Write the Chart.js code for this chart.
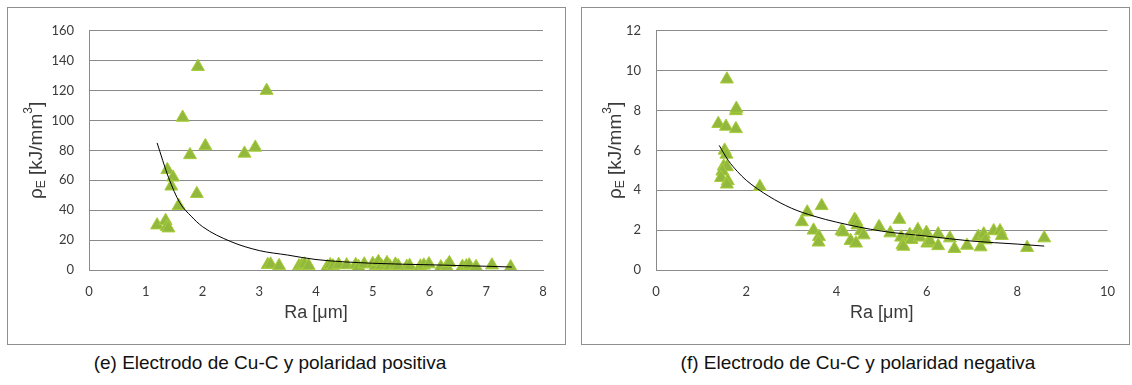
<!DOCTYPE html>
<html>
<head>
<meta charset="utf-8">
<script src="https://cdn.jsdelivr.net/npm/chart.js@4.4.1/dist/chart.umd.min.js"></script>
<style>
  body { margin: 0; background: #fff; width: 1132px; height: 385px; position: relative; overflow: hidden; }
  .box { position: absolute; top: 7px; height: 338px; border: 1px solid #8f8f8f; box-sizing: border-box; }
  .box canvas { display: block; }
  .caption { position: absolute; top: 352px; font: 19px "Liberation Sans", Arial, sans-serif; color: #111; white-space: nowrap; transform: translateX(-50%); }
</style>
</head>
<body>
<div class="box" style="left:7px; width:559px;"><canvas id="chartE"></canvas></div>
<div class="box" style="left:581px; width:549px;"><canvas id="chartF"></canvas></div>
<div class="caption" style="left:270px;">(e) Electrodo de Cu-C y polaridad positiva</div>
<div class="caption" style="left:858px;">(f) Electrodo de Cu-C y polaridad negativa</div>
<script>
// (e) positive polarity: Ra [um] vs rho_E [kJ/mm3]
const raPos = [1.2, 1.35, 1.37, 1.4, 1.38, 1.48, 1.45, 1.58, 1.65, 1.78, 1.92, 1.9, 2.05, 2.74, 2.93, 3.13,
  3.15, 3.2, 3.35, 3.7, 3.75, 3.8, 3.87, 4.2, 4.25, 4.3, 4.4, 4.54, 4.7, 4.75, 4.85, 5.0, 5.05, 5.1, 5.15,
  5.25, 5.3, 5.4, 5.45, 5.6, 5.65, 5.84, 5.9, 5.99, 6.2, 6.3, 6.35, 6.58, 6.65, 6.7, 6.82, 7.1, 7.43];
const rhoPos = [30, 33, 29, 28, 67, 62, 56, 43, 102, 77, 136, 51, 83, 78, 82, 120,
  3.5, 3.8, 2.8, 2.6, 3.2, 3.8, 2.9, 2.2, 3.4, 2.6, 3.6, 3.3, 3.5, 2.2, 3.9, 4.2, 2.8, 5.5, 3.0,
  4.8, 2.6, 3.8, 2.7, 2.3, 2.9, 2.5, 3.1, 4.0, 2.0, 2.4, 4.8, 2.2, 2.6, 3.2, 2.2, 3.2, 2.0];
const trendRaPos = [1.2, 1.4, 1.6, 1.8, 2.0, 2.5, 3.0, 3.5, 4.0, 5.0, 6.0, 7.0, 7.45];
const trendRhoPos = [85, 62, 45, 36, 29, 19, 13, 10, 7, 4.5, 3.5, 2.5, 2];

// (f) negative polarity
const raNeg = [1.57, 1.38, 1.55, 1.77, 1.78, 1.77, 1.52, 1.56, 1.5, 1.57, 1.47, 1.44, 1.59, 1.57, 2.3,
  3.23, 3.35, 3.67, 3.49, 3.61, 3.6, 4.11, 4.15, 4.4, 4.43, 4.31, 4.43, 4.46, 4.54, 4.6, 4.94, 5.19,
  5.39, 5.43, 5.46, 5.48, 5.62, 5.66, 5.8, 5.84, 5.99, 6.01, 6.07, 6.25, 6.25, 6.51, 6.61, 6.89,
  7.14, 7.19, 7.26, 7.3, 7.48, 7.62, 7.66, 8.22, 8.6];
const rhoNeg = [9.57, 7.34, 7.2, 7.98, 8.1, 7.08, 6.0, 5.8, 5.2, 5.17, 4.95, 4.63, 4.47, 4.3, 4.18,
  2.41, 2.9, 3.22, 1.99, 1.67, 1.39, 1.96, 1.9, 2.53, 2.45, 1.47, 1.34, 2.25, 1.96, 1.75, 2.17, 1.85,
  2.53, 1.64, 1.26, 1.18, 1.77, 1.52, 2.02, 1.64, 1.88, 1.34, 1.44, 1.8, 1.21, 1.6, 1.07, 1.23,
  1.68, 1.15, 1.8, 1.5, 1.96, 1.96, 1.72, 1.12, 1.6];
const trendRaNeg = [1.4, 1.6, 1.8, 2.0, 2.5, 3.0, 3.5, 4.0, 5.0, 6.0, 7.0, 8.0, 8.6];
const trendRhoNeg = [6.25, 5.5, 4.95, 4.5, 3.7, 3.1, 2.7, 2.4, 1.95, 1.7, 1.45, 1.3, 1.2];

const xTitle = 'Ra [μm]';
const gridGray = '#8a8a8a';
const textGray = '#3a3a3a';

// y axis title with subscript E and superscript 3
const yTitlePlugin = {
  id: 'yTitle',
  afterDraw(chart, args, opts) {
    const ctx = chart.ctx;
    const area = chart.chartArea;
    const parts = [
      { t: 'ρ', size: 19, dy: 0 },
      { t: 'E', size: 12, dy: 5 },
      { t: ' [kJ/mm', size: 19, dy: 0 },
      { t: '3', size: 12, dy: -8 },
      { t: ']', size: 19, dy: 0 }
    ];
    ctx.save();
    let total = 0;
    parts.forEach(p => {
      ctx.font = p.size + 'px "Liberation Sans", Arial, sans-serif';
      p.w = ctx.measureText(p.t).width;
      total += p.w;
    });
    ctx.translate(opts.x, (area.top + area.bottom) / 2);
    ctx.rotate(-Math.PI / 2);
    ctx.fillStyle = textGray;
    ctx.textBaseline = 'middle';
    ctx.textAlign = 'left';
    let x = -total / 2;
    parts.forEach(p => {
      ctx.font = p.size + 'px "Liberation Sans", Arial, sans-serif';
      ctx.fillText(p.t, x, p.dy + 1);
      x += p.w;
    });
    ctx.restore();
  }
};

function makeChart(id, ra, rho, tRa, tRho, xMax, xStep, yMax, yStep, yWidth, padRight, titleX) {
  const points = ra.map((v, i) => ({ x: v, y: rho[i] }));
  const trend = tRa.map((v, i) => ({ x: v, y: tRho[i] }));
  return new Chart(document.getElementById(id), {
    type: 'scatter',
    data: {
      datasets: [{
        data: trend,
        type: 'line',
        showLine: true,
        borderColor: '#000',
        borderWidth: 1,
        pointRadius: 0,
        cubicInterpolationMode: 'monotone',
        order: 0
      }, {
        data: points,
        pointStyle: 'triangle',
        pointRadius: 7.5,
        backgroundColor: '#92b83e',
        borderColor: '#a8cd3a',
        borderWidth: 1,
        order: 1
      }]
    },
    options: {
      responsive: true,
      maintainAspectRatio: false,
      animation: false,
      events: [],
      layout: { padding: { top: 15, right: padRight, left: 0, bottom: 20 } },
      plugins: {
        legend: { display: false },
        tooltip: { enabled: false },
        yTitle: { x: titleX }
      },
      scales: {
        x: {
          type: 'linear',
          min: 0, max: xMax,
          afterFit: s => { s.height = 54; },
          grid: { display: false, drawTicks: false },
          border: { display: true, color: gridGray, width: 1 },
          ticks: { stepSize: xStep, padding: 14, color: textGray, font: { family: 'Lato', size: 13 } },
          title: { display: true, text: xTitle, color: textGray, padding: 0, font: { family: '"Liberation Sans", Arial', size: 18 } }
        },
        y: {
          min: 0, max: yMax,
          afterFit: s => { s.width = yWidth; },
          grid: { color: gridGray, drawTicks: false },
          border: { display: true, color: gridGray, width: 1 },
          ticks: { stepSize: yStep, padding: 15, color: textGray, font: { family: 'Lato', size: 13 } }
        }
      }
    },
    plugins: [yTitlePlugin]
  });
}

makeChart('chartE', raPos, rhoPos, trendRaPos, trendRhoPos, 8, 1, 160, 20, 81, 22, 28);
makeChart('chartF', raNeg, rhoNeg, trendRaNeg, trendRhoNeg, 10, 2, 12, 2, 74, 15, 33);
</script>
</body>
</html>
